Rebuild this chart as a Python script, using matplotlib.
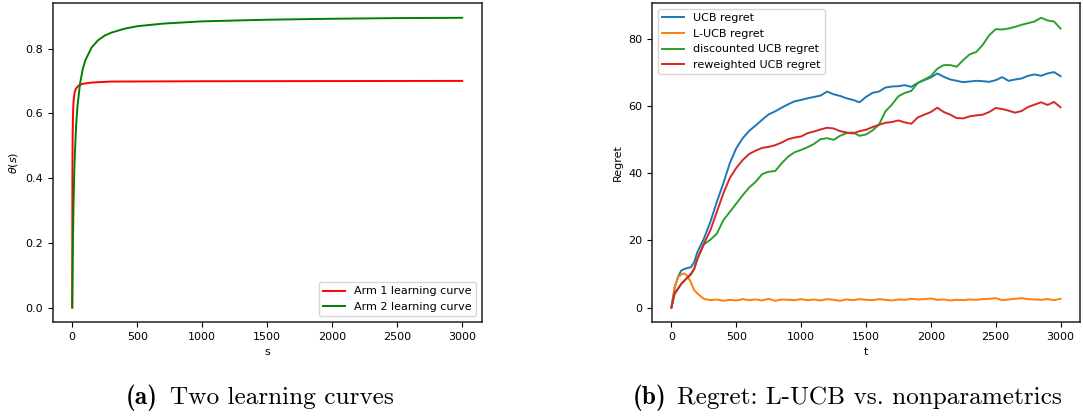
import numpy as np
import matplotlib
matplotlib.use("Agg")
import matplotlib.pyplot as plt

plt.rcParams['font.size'] = 8

# learning curves theta(s) for the two arms
s_arm1 = [0, 1, 2, 3, 5, 8, 12, 20, 30, 50, 80, 150, 300, 1000, 3000]
theta_arm1 = [0, 0.35, 0.467, 0.525, 0.583, 0.622, 0.646, 0.667, 0.677, 0.686,
              0.691, 0.695, 0.698, 0.699, 0.700]
s_arm2 = [0, 2, 5, 10, 15, 20, 30, 40, 60, 80, 100, 150, 200, 250, 300, 400,
          500, 700, 1000, 1500, 2000, 2500, 3000]
theta_arm2 = [0, 0.09, 0.196, 0.321, 0.409, 0.474, 0.563, 0.621, 0.692, 0.735,
              0.763, 0.804, 0.826, 0.840, 0.849, 0.861, 0.869, 0.877, 0.884,
              0.889, 0.892, 0.894, 0.895]

# regret over time
t = np.concatenate([[0, 25, 50, 75, 100, 125, 150, 175], np.arange(200, 3001, 50)])
ucb = [0, 6, 9, 11, 11.5, 11.8, 12, 13.5, 16.5, 20.5, 25.5, 31.5, 37, 43, 47.5,
       50.5, 52.7, 54.3, 56, 57.6, 58.5, 59.6, 60.6, 61.5, 61.9, 62.4, 62.8, 63.2,
       64.4, 63.6, 63.1, 62.4, 61.9, 61.2, 62.8, 64, 64.4, 65.6, 65.9, 66, 66.3,
       65.8, 67, 67.8, 68.6, 69.8, 68.8, 68, 67.6, 67.2, 67.4, 67.6, 67.5, 67.3,
       67.8, 68.7, 67.6, 68, 68.3, 69.1, 69.5, 69.1, 69.8, 70.2, 69]
lucb = [0, 6, 9, 9.8, 10.2, 9.3, 7.5, 5.2, 4.2, 2.6, 2.2, 2.4, 2.0, 2.3, 2.1, 2.5,
        2.2, 2.4, 2.1, 2.6, 2.0, 2.4, 2.3, 2.2, 2.5, 2.2, 2.4, 2.1, 2.5, 2.3, 2.0,
        2.4, 2.2, 2.5, 2.3, 2.2, 2.5, 2.3, 2.1, 2.4, 2.3, 2.6, 2.4, 2.5, 2.7, 2.3,
        2.4, 2.1, 2.3, 2.2, 2.4, 2.3, 2.5, 2.6, 2.8, 2.2, 2.4, 2.6, 2.8, 2.5, 2.4,
        2.3, 2.5, 2.2, 2.6]
discounted = [0, 4, 5.5, 7, 8, 9, 9.8, 11.5, 14.5, 18.8, 20.2, 22, 26, 28.5, 31,
              33.5, 35.8, 37.5, 39.8, 40.5, 40.7, 43, 45, 46.3, 47, 47.8, 48.8,
              50.2, 50.5, 50, 51.2, 52, 52.2, 51.2, 51.6, 52.8, 54.5, 58.5, 60.5,
              63, 64, 64.6, 67, 68, 69, 71.2, 72.3, 72.3, 71.8, 73.8, 75.5, 76.2,
              78.3, 81.2, 83, 82.9, 83.2, 83.7, 84.3, 84.8, 85.3, 86.4, 85.6, 85.3,
              83.2]
reweighted = [0, 4.5, 5.6, 7, 8, 9, 10, 11.5, 14.5, 19, 23, 28.5, 34, 38.6, 41.6,
              44, 45.8, 46.8, 47.6, 47.9, 48.4, 49.2, 50.2, 50.7, 51, 52, 52.5,
              53.1, 53.6, 53.4, 52.6, 52.2, 51.9, 52.6, 53, 53.8, 54.5, 55.1, 55.3,
              55.8, 55.2, 54.8, 56.7, 57.5, 58.3, 59.6, 58.3, 57.5, 56.5, 56.4, 57,
              57.3, 57.5, 58.3, 59.5, 59.2, 58.7, 58.1, 58.6, 59.8, 60.5, 61.2, 60.4,
              61.3, 59.7]

fig = plt.figure(figsize=(10.83, 4.17), dpi=100)
ax1 = fig.add_axes([0.0487, 0.2278, 0.3961, 0.7643])
ax2 = fig.add_axes([0.602, 0.2278, 0.3952, 0.7643])

# (a) learning curves
ax1.plot(s_arm1, theta_arm1, color="red", lw=1.4, label="Arm 1 learning curve")
ax1.plot(s_arm2, theta_arm2, color="green", lw=1.4, label="Arm 2 learning curve")
ax1.set_xlabel("s")
ax1.set_ylabel(r"$\theta(s)$")
ax1.set_xticks(range(0, 3001, 500))
ax1.set_yticks([0.0, 0.2, 0.4, 0.6, 0.8])
ax1.legend(loc="lower right")

# (b) regret comparison
ax2.plot(t, ucb, color="C0", lw=1.4, label="UCB regret")
ax2.plot(t, lucb, color="C1", lw=1.4, label="L-UCB regret")
ax2.plot(t, discounted, color="C2", lw=1.4, label="discounted UCB regret")
ax2.plot(t, reweighted, color="C3", lw=1.4, label="reweighted UCB regret")
ax2.set_xlabel("t")
ax2.set_ylabel("Regret")
ax2.set_xticks(range(0, 3001, 500))
ax2.set_yticks(range(0, 81, 20))
ax2.legend(loc="upper left")

for ax in (ax1, ax2):
    for sp in ax.spines.values():
        sp.set_linewidth(1.1)
        sp.set_color("#222222")

# subfigure captions in Computer Modern: bold tag, roman text
y_cap = 1 - 404 / 417
cap_size = 18.2
fig.text(158 / 1083, y_cap, "(a)", family="cmb10", fontsize=cap_size,
         ha="right", va="baseline")
fig.text(170 / 1083, y_cap, "Two learning curves", family="cmr10",
         fontsize=cap_size, ha="left", va="baseline")
fig.text(666 / 1083, y_cap, "(b)", family="cmb10", fontsize=cap_size,
         ha="right", va="baseline")
fig.text(677 / 1083, y_cap, "Regret: L-UCB vs. nonparametrics", family="cmr10",
         fontsize=cap_size, ha="left", va="baseline")

fig.savefig("out.png", dpi=100)
